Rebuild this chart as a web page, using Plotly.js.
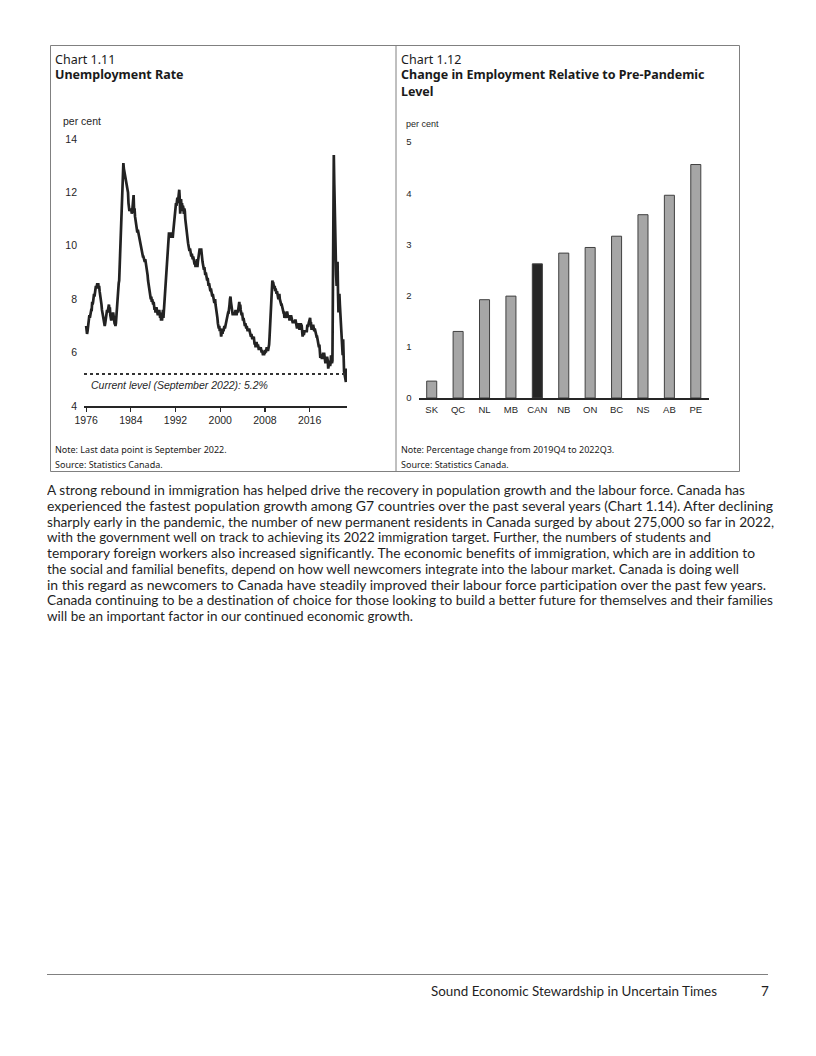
<!DOCTYPE html>
<html>
<head>
<meta charset="utf-8">
<script src="https://cdn.plot.ly/plotly-3.0.1.min.js"></script>
<style>
  body { margin: 0; background: #ffffff; }
  #page { position: relative; width: 816px; height: 1056px; overflow: hidden; background: #fff; }
  #charts { position: absolute; left: 50px; top: 45px; width: 690px; height: 427px; }
  #para { position: absolute; left: 47px; top: 483px; font-family: Lato, "Noto Sans", sans-serif;
          font-size: 13.5px; line-height: 15.75px; color: #1f1f1f; white-space: nowrap;
          font-variant-ligatures: none; font-feature-settings: "liga" 0, "dlig" 0; }
  #para .ln { height: 15.75px; transform-origin: 0 50%; }
  #rule { position: absolute; left: 47px; top: 974px; width: 721px; height: 0; border-top: 1.5px solid #808080; }
  #footer { position: absolute; left: 431px; top: 983px; height: 16px; font-family: Lato, "Noto Sans", sans-serif;
            font-size: 13.5px; line-height: 16px; color: #1f1f1f; white-space: nowrap; transform-origin: 0 0;
            font-variant-ligatures: none; }
  #pagenum { position: absolute; left: 761px; top: 983px; font-family: Lato, "Noto Sans", sans-serif;
             font-size: 13.5px; line-height: 16px; color: #1f1f1f; }
</style>
</head>
<body>
<div id="page">
  <div id="charts"></div>
  <div id="para">
    <div class="ln" data-w="698">A strong rebound in immigration has helped drive the recovery in population growth and the labour force. Canada has</div>
    <div class="ln" data-w="726">experienced the fastest population growth among G7 countries over the past several years (Chart 1.14). After declining</div>
    <div class="ln" data-w="727">sharply early in the pandemic, the number of new permanent residents in Canada surged by about 275,000 so far in 2022,</div>
    <div class="ln" data-w="664">with the government well on track to achieving its 2022 immigration target. Further, the numbers of students and</div>
    <div class="ln" data-w="708">temporary foreign workers also increased significantly. The economic benefits of immigration, which are in addition to</div>
    <div class="ln" data-w="692">the social and familial benefits, depend on how well newcomers integrate into the labour market. Canada is doing well</div>
    <div class="ln" data-w="719">in this regard as newcomers to Canada have steadily improved their labour force participation over the past few years.</div>
    <div class="ln" data-w="726">Canada continuing to be a destination of choice for those looking to build a better future for themselves and their families</div>
    <div class="ln" data-w="366">will be an important factor in our continued economic growth.</div>
  </div>
  <div id="rule"></div>
  <div id="footer"><span id="ftext">Sound Economic Stewardship in Uncertain Times</span></div>
  <div id="pagenum">7</div>
</div>
<script>
// ---------------- Chart 1.11 data: monthly unemployment rate (per cent), Jan 1976 - Sep 2022
const startYear = 1976;
const rate1976to1985 = [
  7.0, 6.9, 6.7, 6.8, 7.0, 7.2, 7.1, 7.4, 7.3, 7.5, 7.4, 7.6,
  7.6, 7.9, 7.8, 7.9, 8.0, 8.2, 8.1, 8.3, 8.4, 8.5, 8.4, 8.6,
  8.6, 8.5, 8.6, 8.4, 8.5, 8.3, 8.2, 8.1, 7.9, 7.8, 7.6, 7.5,
  7.4, 7.3, 7.2, 7.1, 7.0, 7.1, 7.2, 7.4, 7.5, 7.6, 7.5, 7.6,
  7.7, 7.8, 7.6, 7.7, 7.4, 7.3, 7.2, 7.3, 7.5, 7.4, 7.5, 7.3,
  7.2, 7.1, 7.1, 7.0, 7.1, 7.4, 7.8, 8.1, 8.3, 8.5, 8.6, 8.7,
  9.3, 9.8, 10.3, 10.9, 11.5, 12.2, 12.6, 12.9, 13.1, 12.9, 12.8, 12.7,
  12.7, 12.5, 12.4, 12.4, 12.3, 12.2, 12.0, 11.6, 11.4, 11.3, 11.4, 11.3,
  11.3, 11.4, 11.2, 11.3, 11.5, 11.8, 11.9, 11.3, 11.4, 11.1, 11.0, 10.9,
  10.8, 10.6, 10.5, 10.6, 10.5, 10.4, 10.3, 10.2, 10.1, 10.0, 9.9, 9.8
];
const rate1986to1995 = [
  9.8, 9.7, 9.6, 9.6, 9.5, 9.5, 9.4, 9.5, 9.4, 9.3, 9.2, 9.0,
  8.9, 8.7, 8.6, 8.4, 8.3, 8.2, 8.1, 8.0, 8.1, 7.9, 8.0, 7.9,
  7.8, 7.9, 7.7, 7.6, 7.7, 7.5, 7.6, 7.7, 7.5, 7.6, 7.4, 7.5,
  7.5, 7.6, 7.4, 7.3, 7.5, 7.2, 7.3, 7.2, 7.4, 7.6, 7.3, 7.6,
  7.7, 7.9, 8.1, 8.4, 8.8, 9.2, 9.5, 9.8, 10.1, 10.3, 10.5, 10.4,
  10.4, 10.5, 10.3, 10.4, 10.5, 10.4, 10.3, 10.5, 10.7, 10.9, 11.1, 11.3,
  11.4, 11.6, 11.5, 11.7, 11.8, 11.6, 11.9, 11.8, 12.1, 11.8, 11.2, 11.7,
  11.7, 11.4, 11.6, 11.3, 11.5, 11.4, 11.2, 11.4, 11.3, 11.0, 10.8, 10.6,
  10.5, 10.4, 10.2, 10.1, 10.0, 9.9, 9.8, 9.9, 9.7, 9.8, 9.6, 9.7,
  9.6, 9.5, 9.6, 9.4, 9.5, 9.3, 9.4, 9.2, 9.4, 9.3, 9.5, 9.2
];
const rate1996to2005 = [
  9.4, 9.6, 9.5, 9.7, 9.9, 9.8, 9.7, 9.9, 9.6, 9.5, 9.4, 9.3,
  9.2, 9.1, 9.2, 9.0, 8.9, 9.0, 8.8, 8.9, 8.7, 8.8, 8.6, 8.5,
  8.6, 8.4, 8.5, 8.3, 8.4, 8.2, 8.3, 8.1, 8.2, 8.0, 8.1, 7.9,
  7.9, 8.0, 7.8, 7.7, 7.5, 7.4, 7.3, 7.1, 7.0, 6.9, 7.0, 6.8,
  6.9, 6.8, 6.6, 6.7, 6.8, 6.7, 6.9, 6.8, 6.9, 7.0, 6.9, 7.0,
  7.0, 7.1, 7.2, 7.3, 7.4, 7.5, 7.5, 7.6, 7.8, 8.0, 8.1, 7.9,
  7.8, 7.6, 7.5, 7.4, 7.5, 7.4, 7.5, 7.4, 7.5, 7.6, 7.5, 7.4,
  7.5, 7.6, 7.5, 7.6, 7.8, 7.9, 7.7, 7.8, 7.6, 7.5, 7.4, 7.5,
  7.3, 7.2, 7.3, 7.1, 7.2, 7.0, 7.1, 7.0, 6.9, 7.0, 6.9, 6.8,
  6.9, 6.8, 6.9, 6.8, 6.7, 6.7, 6.6, 6.7, 6.6, 6.5, 6.6, 6.5
];
const rate2006to2015 = [
  6.6, 6.4, 6.3, 6.4, 6.2, 6.3, 6.4, 6.3, 6.2, 6.3, 6.2, 6.1,
  6.2, 6.1, 6.1, 6.2, 6.1, 6.0, 6.1, 6.0, 5.9, 6.0, 5.9, 6.0,
  6.0, 6.1, 6.0, 6.1, 6.2, 6.1, 6.1, 6.1, 6.2, 6.3, 6.6, 7.0,
  7.5, 8.0, 8.4, 8.6, 8.7, 8.6, 8.6, 8.5, 8.4, 8.5, 8.3, 8.4,
  8.3, 8.2, 8.3, 8.1, 8.1, 8.0, 8.1, 8.2, 8.0, 7.9, 7.8, 7.8,
  7.8, 7.7, 7.6, 7.6, 7.5, 7.5, 7.3, 7.4, 7.3, 7.4, 7.5, 7.5,
  7.5, 7.4, 7.3, 7.4, 7.3, 7.2, 7.3, 7.2, 7.4, 7.3, 7.2, 7.1,
  7.1, 7.2, 7.1, 7.2, 7.1, 7.2, 7.2, 7.1, 7.0, 6.9, 7.0, 7.1,
  7.0, 7.0, 6.9, 6.9, 7.0, 7.1, 7.0, 7.0, 6.8, 6.6, 6.7, 6.7,
  6.7, 6.8, 6.8, 6.8, 6.8, 6.8, 6.8, 7.0, 7.0, 7.0, 7.1, 7.2
];
const rate2016to2022 = [
  7.2, 7.3, 7.1, 7.1, 6.9, 6.9, 7.0, 7.0, 7.0, 6.9, 6.8, 6.9,
  6.8, 6.7, 6.7, 6.6, 6.6, 6.5, 6.3, 6.2, 6.2, 6.3, 5.9, 5.8,
  5.9, 5.9, 5.8, 5.8, 5.8, 6.0, 5.8, 6.0, 5.9, 5.7, 5.6, 5.7,
  5.8, 5.8, 5.8, 5.7, 5.4, 5.5, 5.7, 5.7, 5.5, 5.6, 5.9, 5.6,
  5.6, 5.7, 7.9, 13.1, 13.4, 12.3, 10.9, 10.2, 9.1, 8.9, 8.5, 8.8,
  9.4, 8.2, 7.5, 8.1, 8.2, 7.8, 7.5, 7.1, 6.9, 6.7, 6.0, 5.9,
  6.5, 5.5, 5.3, 5.2, 5.1, 4.9, 4.9, 5.4, 5.2
];
const yTicks1 = [4, 6, 8, 10, 12, 14];
const xTickYears = [1976, 1984, 1992, 2000, 2008, 2016];

// ---------------- Chart 1.12 data: change in employment, 2019Q4 to 2022Q3 (per cent)
const provinces = ['SK', 'QC', 'NL', 'MB', 'CAN', 'NB', 'ON', 'BC', 'NS', 'AB', 'PE'];
const employmentChange = [0.33, 1.30, 1.92, 1.99, 2.62, 2.83, 2.94, 3.16, 3.58, 3.96, 4.56];
const yTicks2 = [0, 1, 2, 3, 4, 5];

// ---------------- build
const rates = [].concat(rate1976to1985, rate1986to1995, rate1996to2005, rate2006to2015, rate2016to2022);
const months = rates.map((_, i) => {
  const y = startYear + Math.floor(i / 12);
  const m = (i % 12) + 1;
  return y + '-' + String(m).padStart(2, '0') + '-01';
});
const lastRate = rates[rates.length - 1];

const W = 690, H = 427;
const px = v => v / W;
const py = v => 1 - v / H;

const arial = '"Liberation Sans", Arial, sans-serif';
const tickFont1 = { family: arial, size: 10.5, color: '#262626' };
const tickFont2 = { family: arial, size: 9.5, color: '#262626' };
const titleFamily = '"Noto Sans", "Open Sans", sans-serif';

const traces = [
  {
    type: 'scatter', mode: 'lines', x: months, y: rates,
    line: { color: '#222222', width: 2.7 }, xaxis: 'x', yaxis: 'y', hoverinfo: 'skip'
  },
  {
    type: 'bar', x: provinces, y: employmentChange, xaxis: 'x2', yaxis: 'y2',
    marker: { color: provinces.map(p => p === 'CAN' ? '#262626' : '#a6a6a6'),
              line: { color: '#404040', width: 1 } },
    hoverinfo: 'skip'
  }
];

function ann(text, x, y, size, opts) {
  return Object.assign({
    text: text, xref: 'paper', yref: 'paper', x: x, y: y, xanchor: 'left', yanchor: 'middle',
    showarrow: false, font: { family: titleFamily, size: size, color: '#1a1a1a' }
  }, opts || {});
}

const layout = {
  width: W, height: H,
  margin: { l: 0, r: 0, t: 0, b: 0 },
  paper_bgcolor: '#ffffff', plot_bgcolor: 'rgba(0,0,0,0)',
  showlegend: false,
  bargap: 0.62,
  xaxis: {
    domain: [px(34), px(297)], anchor: 'y', type: 'date',
    range: ['1975-08-15', '2022-09-10'],
    tickvals: xTickYears.map(y => y + '-01-01'), ticktext: xTickYears.map(String),
    ticks: 'outside', ticklen: 4, tickwidth: 1.2, tickcolor: '#262626',
    showline: true, linecolor: '#262626', linewidth: 1.5,
    showgrid: false, zeroline: false, tickfont: tickFont1, fixedrange: true
  },
  yaxis: {
    domain: [py(361), py(94)], anchor: 'x', range: [4, 14], tickvals: yTicks1,
    showgrid: false, zeroline: false, showline: false, ticks: '',
    ticklabelstandoff: 6, tickfont: tickFont1, fixedrange: true
  },
  xaxis2: {
    domain: [px(368.5), px(659)], anchor: 'y2', type: 'category', range: [-0.5, 10.5],
    showline: true, linecolor: '#262626', linewidth: 1.5, ticks: '',
    showgrid: false, zeroline: false, tickfont: tickFont2, ticklabelstandoff: 2, fixedrange: true
  },
  yaxis2: {
    domain: [py(353), py(97)], anchor: 'x2', range: [0, 5], tickvals: yTicks2,
    showgrid: false, zeroline: false, showline: false, ticks: '',
    ticklabelstandoff: 6, tickfont: tickFont2, fixedrange: true
  },
  shapes: [
    { type: 'rect', xref: 'paper', yref: 'paper', x0: px(0.5), x1: px(689.5), y0: py(426.5), y1: py(0.5),
      line: { color: '#808080', width: 1 } },
    { type: 'line', xref: 'paper', yref: 'paper', x0: px(346), x1: px(346), y0: 0, y1: 1,
      line: { color: '#808080', width: 1 } },
    { type: 'line', xref: 'x domain', yref: 'y', x0: 0, x1: 1, y0: lastRate, y1: lastRate,
      line: { color: '#333333', width: 2, dash: 'dot' } }
  ],
  annotations: [
    ann('Chart 1.11', px(3), py(14), 12.5),
    ann('<b>Unemployment Rate</b>', px(3), py(30), 12.5),
    ann('per cent', px(11), py(76), 10.5, { font: { family: arial, size: 10.5, color: '#262626' } }),
    ann('<i>Current level (September 2022): ' + lastRate + '%</i>', 0.02, 4.8, 10.5,
        { xref: 'x domain', yref: 'y', font: { family: arial, size: 10.5, color: '#262626' } }),
    ann('Note: Last data point is September 2022.', px(3), py(404), 9),
    ann('Source: Statistics Canada.', px(3), py(419), 9),
    ann('Chart 1.12', px(349), py(14), 12.5),
    ann('<b>Change in Employment Relative to Pre-Pandemic</b>', px(349), py(30), 12.5),
    ann('<b>Level</b>', px(349), py(46), 12.5),
    ann('per cent', px(354), py(79), 9, { font: { family: arial, size: 9, color: '#262626' } }),
    ann('Note: Percentage change from 2019Q4 to 2022Q3.', px(349), py(404), 9),
    ann('Source: Statistics Canada.', px(349), py(419), 9)
  ]
};

Plotly.newPlot('charts', traces, layout, { staticPlot: true, displayModeBar: false });

// fit each paragraph line and the footer to the widths seen on the page
function textWidth(el) {
  const r = document.createRange(); r.selectNodeContents(el);
  return r.getBoundingClientRect().width;
}
function fit() {
  document.querySelectorAll('#para .ln').forEach(ln => {
    ln.style.transform = 'none';
    const w = textWidth(ln);
    const target = parseFloat(ln.getAttribute('data-w'));
    if (w > 0) ln.style.transform = 'scaleX(' + (target / w) + ')';
  });
  const footer = document.getElementById('footer');
  footer.style.transform = 'none';
  const fw = textWidth(document.getElementById('ftext'));
  if (fw > 0) footer.style.transform = 'scaleX(' + (286 / fw) + ')';
}
fit();
if (document.fonts && document.fonts.ready) document.fonts.ready.then(fit);
</script>
</body>
</html>
